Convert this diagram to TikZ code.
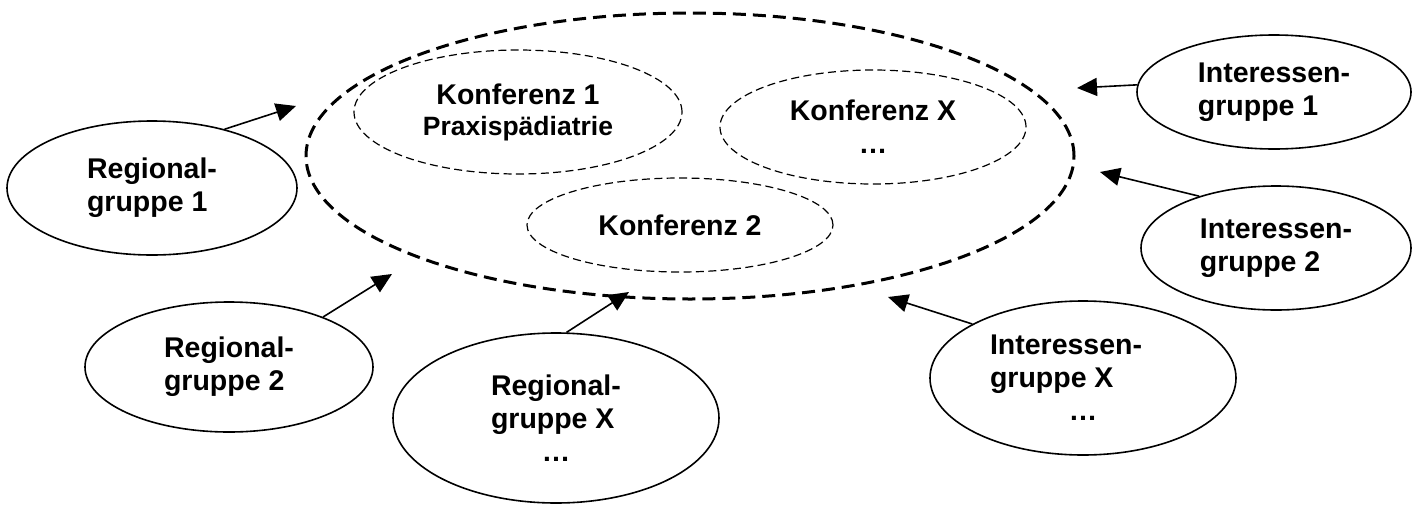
\documentclass[tikz,border=0pt]{standalone}
\usepackage{fontspec}
\setmainfont{Liberation Sans}
\usetikzlibrary{arrows.meta,shapes.geometric}
\newcommand{\lbl}{\bfseries\fontsize{14.25pt}{16.5pt}\selectfont}
\begin{document}
\begin{tikzpicture}[x=0.5pt,y=-0.5pt,
  outerbox/.style={ellipse, draw, line width=1.5pt, dash pattern=on 6.5pt off 3.5pt, inner sep=0pt},
  konf/.style={ellipse, draw, line width=0.6pt, dash pattern=on 4pt off 2.2pt, inner sep=0pt, align=center, font=\lbl},
  grp/.style={ellipse, draw, line width=0.8pt, inner sep=0pt, align=left, font=\lbl},
  arr/.style={line width=0.8pt, -{Triangle[length=10pt,width=9pt]}}]
\useasboundingbox (0,0) rectangle (1414,504);
% big dashed ellipse
\node[outerbox, minimum width=384pt, minimum height=143pt] (big) at (690,156) {};
% conferences
\node[konf, minimum width=164pt, minimum height=62pt] (k1) at (518,112)
  {Konferenz 1\\[-1pt]{\fontsize{13.25pt}{16pt}\selectfont Praxispädiatrie}};
\node[konf, minimum width=153pt, minimum height=57pt] (kx) at (873,127) {Konferenz X\\…};
\node[konf, minimum width=153pt, minimum height=47pt] (k2) at (680,225) {Konferenz 2};
% groups
\node[grp, minimum width=145pt, minimum height=67pt] (r1) at (152,188) {Regional-\\gruppe 1};
\node[grp, minimum width=144pt, minimum height=65pt] (r2) at (229,367) {Regional-\\gruppe 2};
\node[grp, minimum width=163pt, minimum height=85pt] (rx) at (556,418) {Regional-\\gruppe X\\\makebox[65pt]{…}};
\node[grp, minimum width=137pt, minimum height=57pt] (i1) at (1274,92) {Interessen-\\gruppe 1};
\node[grp, minimum width=135pt, minimum height=62pt] (i2) at (1276,248) {Interessen-\\gruppe 2};
\node[grp, minimum width=153pt, minimum height=77pt] (ix) at (1083,378) {Interessen-\\gruppe X\\\makebox[93pt]{…}};
% arrow tips (free ends)
\coordinate (t1) at (296,106);
\coordinate (t2) at (392,274);
\coordinate (t3) at (629,292);
\coordinate (t4) at (1077,88);
\coordinate (t5) at (1100,172);
\coordinate (t6) at (888,297);
% connectors
\draw[arr] (r1.39.4) -- (t1);
\draw[arr] (r2.28.6) -- (t2);
\draw[arr] (rx.83) -- (t3);
\draw[arr] (i1.177) -- (t4);
\draw[arr] (i2.146.8) -- (t5);
\draw[arr] (ix.154.9) -- (t6);
\end{tikzpicture}
\end{document}
